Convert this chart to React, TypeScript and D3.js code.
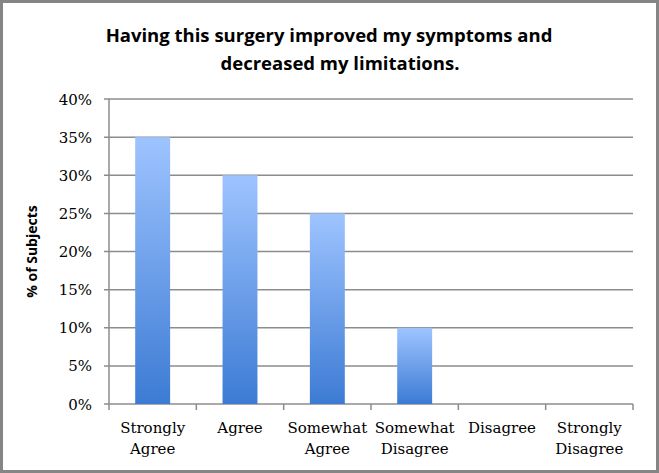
import React from "react";
import * as d3 from "d3";

const categories = [
  ["Strongly", "Agree"],
  ["Agree"],
  ["Somewhat", "Agree"],
  ["Somewhat", "Disagree"],
  ["Disagree"],
  ["Strongly", "Disagree"],
];
const values = [35, 30, 25, 10, 0, 0];
const yTicks = [0, 5, 10, 15, 20, 25, 30, 35, 40];
const titleLines = ["Having this surgery improved my symptoms and", "decreased my limitations."];
const yLabel = "% of Subjects";

const W = 659;
const H = 473;
const m = { left: 109, right: 633, top: 99, bottom: 404 };

export default function App() {
  const keys = categories.map((c) => c.join(" "));
  const x = d3.scaleBand<string>().domain(keys).range([m.left, m.right]).padding(0);
  const y = d3.scaleLinear().domain([0, 40]).range([m.bottom, m.top]);
  const bw = x.bandwidth() * 0.4;
  const serif = "'DejaVu Serif', serif";
  const sans = "'Open Sans', 'Noto Sans', sans-serif";
  return (
    <svg width={W} height={H} style={{ position: "absolute", left: 0, top: 0 }}>
      <defs>
        <linearGradient id="barGrad" x1="0" y1="0" x2="0" y2="1">
          <stop offset="0%" stopColor="#9ec4ff" />
          <stop offset="100%" stopColor="#3c7bd4" />
        </linearGradient>
      </defs>
      <rect x={0} y={0} width={W} height={H} fill="#fff" />
      <rect x={1.5} y={1.5} width={W - 3} height={H - 3} fill="none" stroke="#858585" strokeWidth={3} />
      {titleLines.map((t, i) => (
        <text key={i} x={i === 0 ? 329 : 340} y={42 + i * 28} textAnchor="middle" fontFamily={sans} fontWeight="bold" fontSize={18.5} fill="#000">
          {t}
        </text>
      ))}
      {yTicks.map((t) => (
        <g key={t}>
          <line x1={m.left - 5} x2={m.right} y1={y(t)} y2={y(t)} stroke="#8c8c8c" strokeWidth={1.5} />
          <text x={92} y={y(t) + 5.5} textAnchor="end" fontFamily={serif} fontSize={15} fill="#000">
            {t}%
          </text>
        </g>
      ))}
      <line x1={m.left} x2={m.left} y1={m.top} y2={m.bottom} stroke="#8c8c8c" strokeWidth={1.5} />
      {keys.map((k, i) => (
        <line key={"tk" + i} x1={x(k)!} x2={x(k)!} y1={m.bottom} y2={m.bottom + 6} stroke="#8c8c8c" strokeWidth={1.5} />
      ))}
      <line x1={m.right} x2={m.right} y1={m.bottom} y2={m.bottom + 6} stroke="#8c8c8c" strokeWidth={1.5} />
      {keys.map((k, i) =>
        values[i] > 0 ? (
          <rect key={"b" + i} x={x(k)! + x.bandwidth() / 2 - bw / 2} y={y(values[i])} width={bw} height={y(0) - y(values[i])} fill="url(#barGrad)" />
        ) : null
      )}
      {categories.map((c, i) => (
        <text key={"c" + i} x={x(keys[i])! + x.bandwidth() / 2} textAnchor="middle" fontFamily={serif} fontSize={15} fill="#000">
          {c.map((l, j) => (
            <tspan key={j} x={x(keys[i])! + x.bandwidth() / 2} y={433 + j * 21}>
              {l}
            </tspan>
          ))}
        </text>
      ))}
      <text transform={`translate(37,${(m.top + m.bottom) / 2}) rotate(-90)`} textAnchor="middle" fontFamily={sans} fontWeight="bold" fontSize={14} fill="#000">
        {yLabel}
      </text>
    </svg>
  );
}
